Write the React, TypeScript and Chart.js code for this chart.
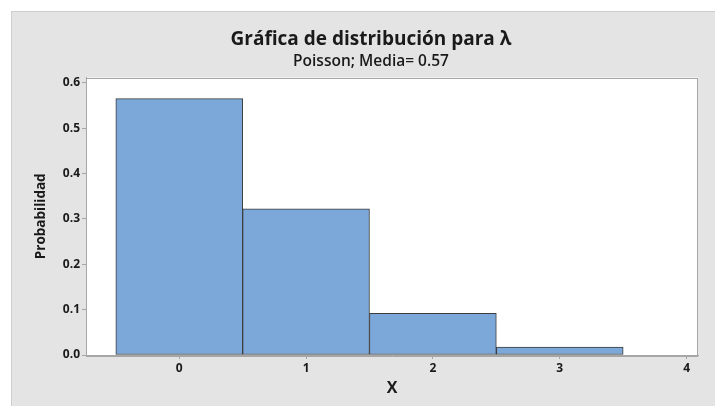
import { useEffect, useRef } from "react";
import { Chart, registerables } from "chart.js";

Chart.register(...registerables);

const titleText = "Gráfica de distribución para λ";
const subtitleText = "Poisson; Media= 0.57";
const xAxisTitle = "X";
const yAxisTitle = "Probabilidad";
const xValues = [0, 1, 2, 3];
const probabilities = [0.5655, 0.3223, 0.0919, 0.0175];
const xTicks = [0, 1, 2, 3, 4];
const yTicks = [0, 0.1, 0.2, 0.3, 0.4, 0.5, 0.6];

const FONT = "'Open Sans', 'Noto Sans', sans-serif";
const TEXT = "#1a1a1a";
const FRAME = "#a6a6a6";

const plotFrame = {
  id: "plotFrame",
  beforeDraw(chart: any) {
    const { ctx, chartArea: a } = chart;
    ctx.save();
    ctx.fillStyle = "#ffffff";
    ctx.fillRect(a.left, a.top, a.right - a.left, a.bottom - a.top);
    ctx.restore();
  },
  afterDatasetsDraw(chart: any) {
    const { ctx, chartArea: a } = chart;
    ctx.save();
    ctx.strokeStyle = FRAME;
    ctx.lineWidth = 1;
    ctx.strokeRect(
      Math.round(a.left) + 0.5,
      Math.round(a.top) + 0.5,
      Math.round(a.right - a.left) - 1,
      Math.round(a.bottom - a.top)
    );
    ctx.restore();
  },
};

const titleShift = {
  id: "titleShift",
  afterLayout(chart: any, _args: any, opts: any) {
    chart.boxes.forEach((b: any) => {
      if (b && b.options && typeof b.options.text === "string" && b.position === "top") {
        const d = opts.center - (b.left + b.right) / 2;
        b.left += d;
        b.right += d;
      }
    });
  },
};

export default function App() {
  const ref = useRef<HTMLCanvasElement | null>(null);

  useEffect(() => {
    if (!ref.current) return;
    const tickFont = { family: FONT, size: 12, weight: "bold" as const };
    const chart = new Chart(ref.current, {
      type: "bar",
      data: {
        datasets: [
          {
            data: xValues.map((x, i) => ({ x, y: probabilities[i] })),
            backgroundColor: "#7ca7d9",
            borderColor: "#3c3c3c",
            borderWidth: 1,
            borderSkipped: false,
            barPercentage: 1,
            categoryPercentage: 1,
          },
        ],
      },
      options: {
        animation: false,
        responsive: false,
        layout: { padding: { left: 0, right: 17, top: 0, bottom: 0 } },
        plugins: {
          legend: { display: false },
          tooltip: { enabled: false },
          title: {
            display: true,
            text: titleText,
            color: TEXT,
            font: { family: FONT, size: 19, weight: "bold", lineHeight: 1 },
            padding: { top: 18.5, bottom: 0 },
          },
          subtitle: {
            display: true,
            text: subtitleText,
            color: TEXT,
            font: { family: FONT, size: 15.5, weight: "600", lineHeight: 1 },
            padding: { top: 4, bottom: 8.5 },
          },
          titleShift: { center: 359 },
        } as any,
        scales: {
          x: {
            type: "linear",
            min: -0.735,
            max: 4.09,
            offset: false,
            afterBuildTicks: (s: any) => {
              s.ticks = xTicks.map((v) => ({ value: v }));
            },
            afterFit: (s: any) => {
              s.height = 51;
            },
            grid: {
              display: true,
              drawOnChartArea: false,
              drawTicks: true,
              tickLength: 4,
              color: FRAME,
              offset: false,
            },
            border: { display: true, color: FRAME },
            ticks: {
              padding: 2,
              color: TEXT,
              font: tickFont,
              maxRotation: 0,
              autoSkip: false,
              callback: (v: any) => String(v),
            },
            title: {
              display: true,
              text: xAxisTitle,
              color: TEXT,
              font: { family: FONT, size: 16, weight: "bold", lineHeight: 1.2 },
              padding: { top: 0, bottom: 8.4 },
            },
          },
          y: {
            type: "linear",
            min: 0,
            max: 0.612,
            afterBuildTicks: (s: any) => {
              s.ticks = yTicks.map((v) => ({ value: v }));
            },
            afterFit: (s: any) => {
              s.width = 74;
            },
            grid: {
              display: true,
              drawOnChartArea: false,
              drawTicks: true,
              tickLength: 4,
              color: FRAME,
            },
            border: { display: true, color: FRAME },
            ticks: {
              padding: 2,
              color: TEXT,
              font: tickFont,
              autoSkip: false,
              callback: (v: any) => Number(v).toFixed(1),
            },
            title: {
              display: true,
              text: yAxisTitle,
              color: TEXT,
              font: { family: FONT, size: 13.5, weight: "bold", lineHeight: 1.2 },
              padding: { top: 21, bottom: 0 },
            },
          },
        },
      },
      plugins: [plotFrame, titleShift],
    });
    return () => chart.destroy();
  }, []);

  return (
    <div
      style={{
        position: "absolute",
        left: 11,
        top: 11,
        width: 704,
        height: 395,
        boxSizing: "border-box",
        borderTop: "1px solid #cdcdcd",
        borderLeft: "1px solid #cdcdcd",
        background: "#e4e4e4",
        overflow: "hidden",
      }}
    >
      <canvas ref={ref} width={703} height={394} style={{ display: "block" }} />
    </div>
  );
}
